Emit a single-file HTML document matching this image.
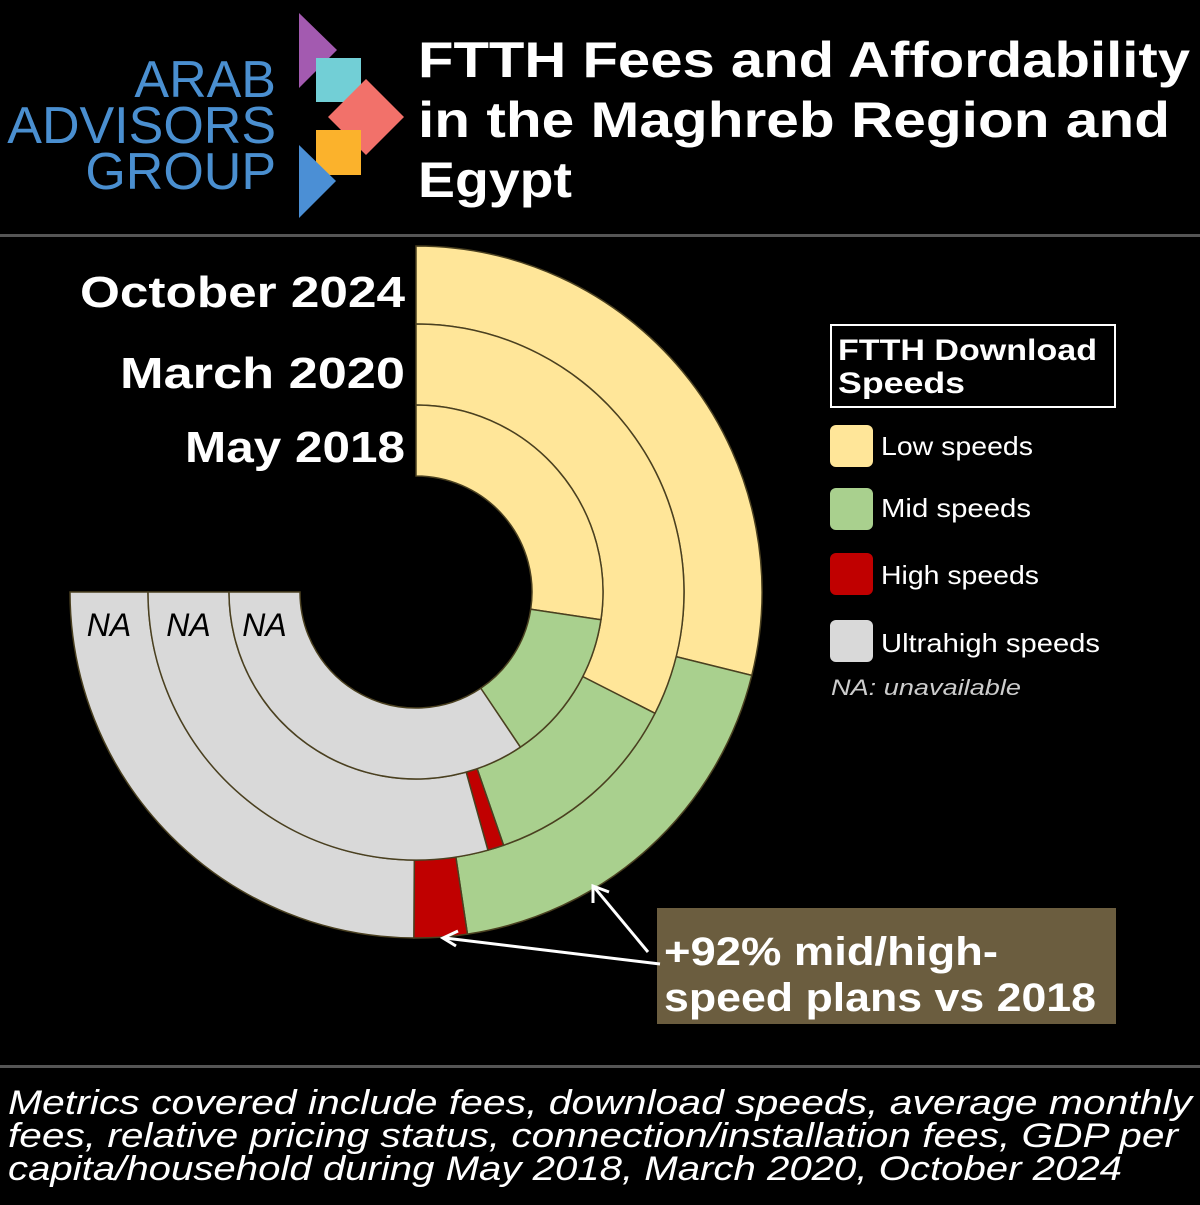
<!DOCTYPE html>
<html><head><meta charset="utf-8"><style>
html,body{margin:0;padding:0;background:#000;}
body{width:1200px;height:1200px;overflow:hidden;font-family:"Liberation Sans",sans-serif;}
</style></head><body>
<svg width="1200" height="1200" viewBox="0 0 1200 1200">
<rect width="1200" height="1200" fill="#000"/>
<g>
<text x="276" y="97" text-anchor="end" fill="#4a8fd0" font-size="52">ARAB</text>
<text x="276" y="143" text-anchor="end" fill="#4a8fd0" font-size="52">ADVISORS</text>
<text x="276" y="189" text-anchor="end" fill="#4a8fd0" font-size="52">GROUP</text>
<polygon points="299,13 299,88 337,50" fill="#a35ab0"/>
<rect x="316" y="58" width="45" height="44" fill="#72cfd6"/>
<polygon points="366,79 404,117 366,155 328,117" fill="#f2716a"/>
<rect x="316" y="130" width="45" height="45" fill="#fbb22c"/>
<polygon points="299,145 299,218 336,181" fill="#4b8fd5"/>
</g>
<g font-weight="bold" fill="#fff" font-size="50">
<text x="418" y="77" textLength="772" lengthAdjust="spacingAndGlyphs">FTTH Fees and Affordability</text>
<text x="418" y="137" textLength="752" lengthAdjust="spacingAndGlyphs">in the Maghreb Region and</text>
<text x="418" y="197" textLength="154" lengthAdjust="spacingAndGlyphs">Egypt</text>
</g>
<rect x="0" y="234" width="1200" height="3" fill="#555"/>
<rect x="0" y="1065" width="1200" height="3" fill="#555"/>
<g font-weight="bold" fill="#fff" font-size="44">
<text x="80" y="307" textLength="325" lengthAdjust="spacingAndGlyphs">October 2024</text>
<text x="120" y="388" textLength="285" lengthAdjust="spacingAndGlyphs">March 2020</text>
<text x="185" y="462" textLength="220" lengthAdjust="spacingAndGlyphs">May 2018</text>
</g>
<g id="rings"></g>
<g>
<rect x="831" y="325" width="284" height="82" fill="none" stroke="#fff" stroke-width="2"/>
<text x="838" y="360" fill="#fff" font-weight="bold" font-size="30" textLength="259" lengthAdjust="spacingAndGlyphs">FTTH Download</text>
<text x="838" y="393" fill="#fff" font-weight="bold" font-size="30" textLength="127" lengthAdjust="spacingAndGlyphs">Speeds</text>
<rect x="830" y="425" width="43" height="42" rx="6" fill="#ffe699"/>
<text x="881" y="455" fill="#fff" font-size="26" textLength="152" lengthAdjust="spacingAndGlyphs">Low speeds</text>
<rect x="830" y="488" width="43" height="42" rx="6" fill="#a9d08e"/>
<text x="881" y="517" fill="#fff" font-size="26" textLength="150" lengthAdjust="spacingAndGlyphs">Mid speeds</text>
<rect x="830" y="553" width="43" height="42" rx="6" fill="#c00000"/>
<text x="881" y="584" fill="#fff" font-size="26" textLength="158" lengthAdjust="spacingAndGlyphs">High speeds</text>
<rect x="830" y="620" width="43" height="42" rx="6" fill="#d9d9d9"/>
<text x="881" y="652" fill="#fff" font-size="26" textLength="219" lengthAdjust="spacingAndGlyphs">Ultrahigh speeds</text>
<text x="831" y="695" fill="#ccc" font-size="22" font-style="italic" textLength="190" lengthAdjust="spacingAndGlyphs">NA: unavailable</text>
</g>
<g>
<rect x="657" y="908" width="459" height="116" fill="#6b5d3f"/>
<text x="664" y="965" fill="#fff" font-weight="bold" font-size="40" textLength="334" lengthAdjust="spacingAndGlyphs">+92% mid/high-</text>
<text x="664" y="1011" fill="#fff" font-weight="bold" font-size="40" textLength="432" lengthAdjust="spacingAndGlyphs">speed plans vs 2018</text>
<line x1="660" y1="964" x2="445" y2="938" stroke="#fff" stroke-width="3"/>
<polyline points="458,931 443,938 456,946" fill="none" stroke="#fff" stroke-width="3"/>
<line x1="648" y1="952" x2="594" y2="887" stroke="#fff" stroke-width="3"/>
<polyline points="593,903 593,886 609,892" fill="none" stroke="#fff" stroke-width="3"/>
</g>
<g fill="#fff" font-size="34" font-style="italic">
<text x="8" y="1114" textLength="1184" lengthAdjust="spacingAndGlyphs">Metrics covered include fees, download speeds, average monthly</text>
<text x="8" y="1147" textLength="1170" lengthAdjust="spacingAndGlyphs">fees, relative pricing status, connection/installation fees, GDP per</text>
<text x="8" y="1180" textLength="1114" lengthAdjust="spacingAndGlyphs">capita/household during May 2018, March 2020, October 2024</text>
</g>
</svg>
<script>
const periods = ["October 2024","March 2020","May 2018"];
const categories = ["Low","Mid","High","Ultrahigh"];
const lowValues = [38.5, 43.3, 36.5];
const midValues = [25.0, 16.3, 17.6];
const highValues = [3.3, 1.3, 0];
const ultraValues = [33.2, 39.1, 45.9];
const colors = ["#ffe699","#a9d08e","#c00000","#d9d9d9"];
const cx = 416, cy = 592;
const radii = [[268,346],[187,268],[116,187]];
const SWEEP = 270;
function angleOf(pct){ return pct/100*SWEEP; }
function pt(r,a){ const t=(a-90)*Math.PI/180; return [cx+r*Math.cos(t), cy+r*Math.sin(t)]; }
function arc(r0,r1,a0,a1){
  const l = (a1-a0)>180?1:0;
  const p1=pt(r1,a0),p2=pt(r1,a1),p3=pt(r0,a1),p4=pt(r0,a0);
  return `M${p1} A${r1},${r1} 0 ${l} 1 ${p2} L${p3} A${r0},${r0} 0 ${l} 0 ${p4} Z`;
}
const g = document.getElementById('rings');
const NS = "http://www.w3.org/2000/svg";
periods.forEach((p,i)=>{
  const vals=[lowValues[i],midValues[i],highValues[i],ultraValues[i]];
  const total = vals.reduce((a,b)=>a+b,0);
  let acc=0;
  vals.forEach((v,j)=>{
    if(v<=0) return;
    const a0=angleOf(acc/total*100), a1=angleOf((acc+v)/total*100);
    acc+=v;
    const path=document.createElementNS(NS,'path');
    path.setAttribute('d',arc(radii[i][0],radii[i][1],a0,a1));
    path.setAttribute('fill',colors[j]);
    path.setAttribute('stroke','#4a4020');
    path.setAttribute('stroke-width','1.5');
    
    
    g.appendChild(path);
  });
  const na=document.createElementNS(NS,'text');
  const rx = cx - (radii[i][0]+radii[i][1])/2;
  na.setAttribute('x', rx);
  na.setAttribute('y', 636);
  na.setAttribute('text-anchor','middle');
  na.setAttribute('font-size','32');
  na.setAttribute('font-style','italic');
  na.setAttribute('fill','#000');
  na.textContent='NA';
  
  
  g.appendChild(na);
});
</script>
</body></html>
